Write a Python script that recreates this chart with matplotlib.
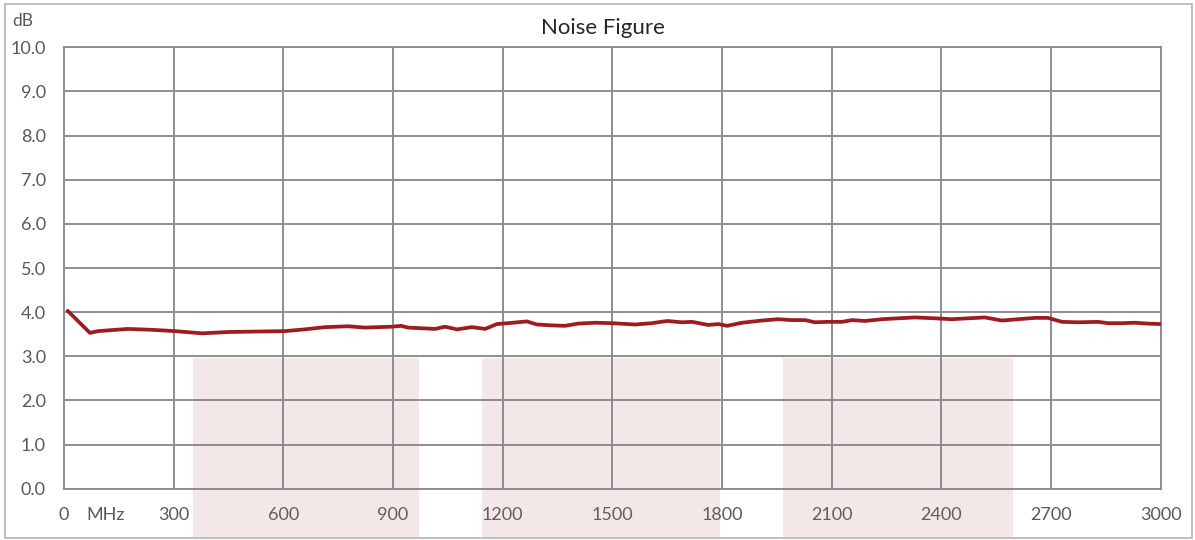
import numpy as np
import matplotlib
matplotlib.use("Agg")
import matplotlib.pyplot as plt
from matplotlib.patches import Rectangle

# Measured noise figure vs frequency
freq_mhz = [10, 71, 93, 175, 240, 303, 377, 449, 522, 604,
            659, 714, 777, 823, 897, 922, 941, 1015, 1042, 1075,
            1116, 1152, 1184, 1215, 1266, 1294, 1335, 1370, 1406, 1452,
            1499, 1562, 1608, 1650, 1690, 1718, 1762, 1790, 1814, 1855,
            1909, 1953, 1991, 2027, 2054, 2090, 2128, 2156, 2191, 2238,
            2281, 2328, 2383, 2429, 2473, 2519, 2566, 2610, 2656, 2692,
            2730, 2774, 2829, 2856, 2894, 2930, 2965, 3000]
nf_db = [4.03, 3.53, 3.57, 3.62, 3.60, 3.57, 3.52, 3.55, 3.56, 3.57,
         3.61, 3.66, 3.68, 3.65, 3.67, 3.69, 3.65, 3.62, 3.67, 3.61,
         3.66, 3.62, 3.73, 3.75, 3.79, 3.72, 3.70, 3.69, 3.74, 3.76,
         3.75, 3.72, 3.75, 3.80, 3.77, 3.78, 3.71, 3.73, 3.69, 3.76,
         3.81, 3.84, 3.82, 3.82, 3.77, 3.78, 3.78, 3.82, 3.80, 3.84,
         3.86, 3.88, 3.86, 3.84, 3.86, 3.88, 3.81, 3.84, 3.87, 3.87,
         3.78, 3.77, 3.78, 3.75, 3.75, 3.76, 3.74, 3.73]

# Highlighted frequency bands (MHz)
band_start = [352, 1143, 1966]
band_end = [972, 1795, 2595]
band_top = 2.95

x_ticks = list(range(0, 3001, 300))
y_ticks = [i * 1.0 for i in range(0, 11)]

grid_col = '#8e8e92'
text_col = '#595959'
plt.rcParams['font.family'] = ['Lato', 'DejaVu Sans']

fig = plt.figure(figsize=(11.95, 5.4), dpi=100)
ax = fig.add_axes([0.05356, 0.0950, 0.91774, 0.8174])

# outer chart border
fig.patches.append(Rectangle((0.0042, 0.0037), 0.9935, 0.9898, transform=fig.transFigure,
                             fill=False, edgecolor='#b3b3b3', linewidth=1.2))

for s, e in zip(band_start, band_end):
    ax.add_patch(Rectangle((s, -1.094), e - s, band_top + 1.094, facecolor='#b86a6a',
                           alpha=0.16, edgecolor='none', zorder=3, clip_on=False))

ax.plot(freq_mhz, nf_db, color='#9e1b20', linewidth=2.7, zorder=4,
        solid_joinstyle='round', solid_capstyle='round')

ax.set_xlim(0, 3000)
ax.set_ylim(0, 10)
ax.set_xticks(x_ticks)
ax.set_yticks(y_ticks)
ax.set_yticklabels([f"{v:.1f}" for v in y_ticks])
ax.grid(True, color=grid_col, linewidth=1.4, zorder=1)
ax.set_axisbelow(True)
for sp in ax.spines.values():
    sp.set_color(grid_col)
    sp.set_linewidth(1.4)
ax.tick_params(length=0, labelsize=13, labelcolor=text_col)
ax.tick_params(axis='y', pad=13)
ax.tick_params(axis='x', pad=13.5)

ax.text(115, -0.6, 'MHz', fontsize=13, color=text_col, ha='center', va='center')
fig.text(23 / 1195, 1 - 21 / 540, 'dB', fontsize=12.5, color=text_col, ha='center', va='center')
fig.text(603 / 1195, 1 - 28 / 540, 'Noise Figure', fontsize=16, color='#262626',
         ha='center', va='center')

fig.savefig('out.png', dpi=100)
